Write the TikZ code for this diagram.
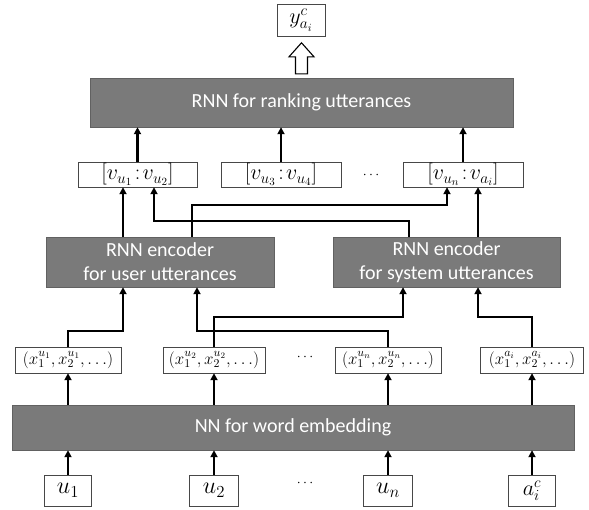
\RequirePackage{fix-cm}
\documentclass[tikz,border=0pt]{standalone}
\usepackage{fontspec}
\setmainfont{Carlito}
\usetikzlibrary{arrows.meta}
\begin{document}
\begin{tikzpicture}[x=1pt, y=1pt,
  graybox/.style={draw=black!62, fill=black!52, text=white, inner sep=0pt, align=center, font=\fontsize{20}{24}\selectfont},
  whitebox/.style={draw=black!72, fill=white, inner sep=0pt, font=\fontsize{24}{26}\selectfont},
  dotsnode/.style={inner sep=0pt, font=\fontsize{14}{16}\selectfont},
  conn/.style={line width=2.6pt, -{Triangle[length=7pt,width=7pt]}},
  hollow/.style={draw=black, fill=white, line width=1.1pt, line join=miter}]
\useasboundingbox (0,0) rectangle (589,-509);
% output
\node[whitebox, minimum width=48pt, minimum height=32pt, font=\fontsize{22}{24}\selectfont] (yout) at (301,-20) {$y^{c}_{a_i}$};
\node[graybox, minimum width=423pt, minimum height=49pt] (rank) at (301.5,-102.5) {RNN for ranking utterances};
% concatenated encodings
\node[whitebox, minimum width=119pt, minimum height=25pt, font=\fontsize{22}{24}\selectfont] (vb1) at (137.5,-174.5) {$[v_{u_1}\!:\!v_{u_2}]$};
\node[whitebox, minimum width=120pt, minimum height=25pt, font=\fontsize{22}{24}\selectfont] (vb2) at (281,-174.5) {$[v_{u_3}\!:\!v_{u_4}]$};
\node[dotsnode] (vdots) at (371,-175) {$\cdots$};
\node[whitebox, minimum width=120pt, minimum height=25pt, font=\fontsize{22}{24}\selectfont] (vb3) at (463,-174.5) {$[v_{u_n}\!:\!v_{a_i}]$};
% encoders
\node[graybox, minimum width=228pt, minimum height=50pt] (enc1) at (160,-262) {RNN encoder\\for user utterances};
\node[graybox, minimum width=227pt, minimum height=50pt] (enc2) at (446.5,-262) {RNN encoder\\for system utterances};
% word vectors
\node[whitebox, minimum width=106pt, minimum height=26pt, font=\fontsize{17}{20}\selectfont] (xb1) at (68,-360) {$(x_1^{u_1},x_2^{u_1},\ldots)$};
\node[whitebox, minimum width=102pt, minimum height=26pt, font=\fontsize{17}{20}\selectfont] (xb2) at (214,-360) {$(x_1^{u_2},x_2^{u_2},\ldots)$};
\node[dotsnode] (xdots) at (305,-357) {$\cdots$};
\node[whitebox, minimum width=106pt, minimum height=26pt, font=\fontsize{17}{20}\selectfont] (xb3) at (388,-360) {$(x_1^{u_n},x_2^{u_n},\ldots)$};
\node[whitebox, minimum width=103pt, minimum height=26pt, font=\fontsize{17}{20}\selectfont] (xb4) at (532,-360) {$(x_1^{a_i},x_2^{a_i},\ldots)$};
\node[graybox, minimum width=562pt, minimum height=45pt] (emb) at (293,-427.5) {NN for word embedding};
% inputs
\node[whitebox, minimum width=47pt, minimum height=31pt] (u1) at (68,-490.5) {$u_1$};
\node[whitebox, minimum width=49pt, minimum height=31pt] (u2) at (214,-490.5) {$u_2$};
\node[dotsnode] (udots) at (305,-483) {$\cdots$};
\node[whitebox, minimum width=49pt, minimum height=31pt] (un) at (388,-490.5) {$u_n$};
\node[whitebox, minimum width=47pt, minimum height=31pt, font=\fontsize{22}{24}\selectfont] (aic) at (532,-490.5) {$a_i^{c}$};
% inputs -> embedding -> word vectors
\draw[conn] (u1) -- (u1 |- emb.south);
\draw[conn] (u2) -- (u2 |- emb.south);
\draw[conn] (un) -- (un |- emb.south);
\draw[conn] (aic) -- (aic |- emb.south);
\draw[conn] (emb.north -| xb1) -- (xb1);
\draw[conn] (emb.north -| xb2) -- (xb2);
\draw[conn] (emb.north -| xb3) -- (xb3);
\draw[conn] (emb.north -| xb4) -- (xb4);
% word vectors -> encoders
\draw[conn] (xb1.north) -- ++(0,16) -| ([xshift=-37pt]enc1.south);
\draw[conn] (xb3.north) -- ++(0,16) -| ([xshift=37pt]enc1.south);
\draw[conn] (xb2.north) -- ++(0,30) -| ([xshift=-43.5pt]enc2.south);
\draw[conn] (xb4.north) -- ++(0,30) -| ([xshift=31.5pt]enc2.south);
% encoders -> concatenations
\draw[conn] ([xshift=-37pt]enc1.north) -- ([xshift=-37pt]enc1.north |- vb1.south);
\draw[conn] ([xshift=32pt]enc1.north) -- ++(0,32) -| ([xshift=-16pt]vb3.south);
\draw[conn] ([xshift=-37.5pt]enc2.north) -- ++(0,16) -| ([xshift=16.5pt]vb1.south);
\draw[conn] ([xshift=31.5pt]enc2.north) -- ([xshift=31.5pt]enc2.north |- vb3.south);
% concatenations -> ranking
\draw[conn] (vb1) -- (vb1 |- rank.south);
\draw[conn] (vb2) -- (vb2 |- rank.south);
\draw[conn] (vb3) -- (vb3 |- rank.south);
% ranking -> output
\draw[hollow] ([xshift=-6pt,yshift=4pt]rank.north) -- ++(0,17) -- ++(-6.5,0) -- ++(12.5,14)
  -- ++(12.5,-14) -- ++(-6.5,0) -- ++(0,-17) -- cycle;
\end{tikzpicture}
\end{document}
